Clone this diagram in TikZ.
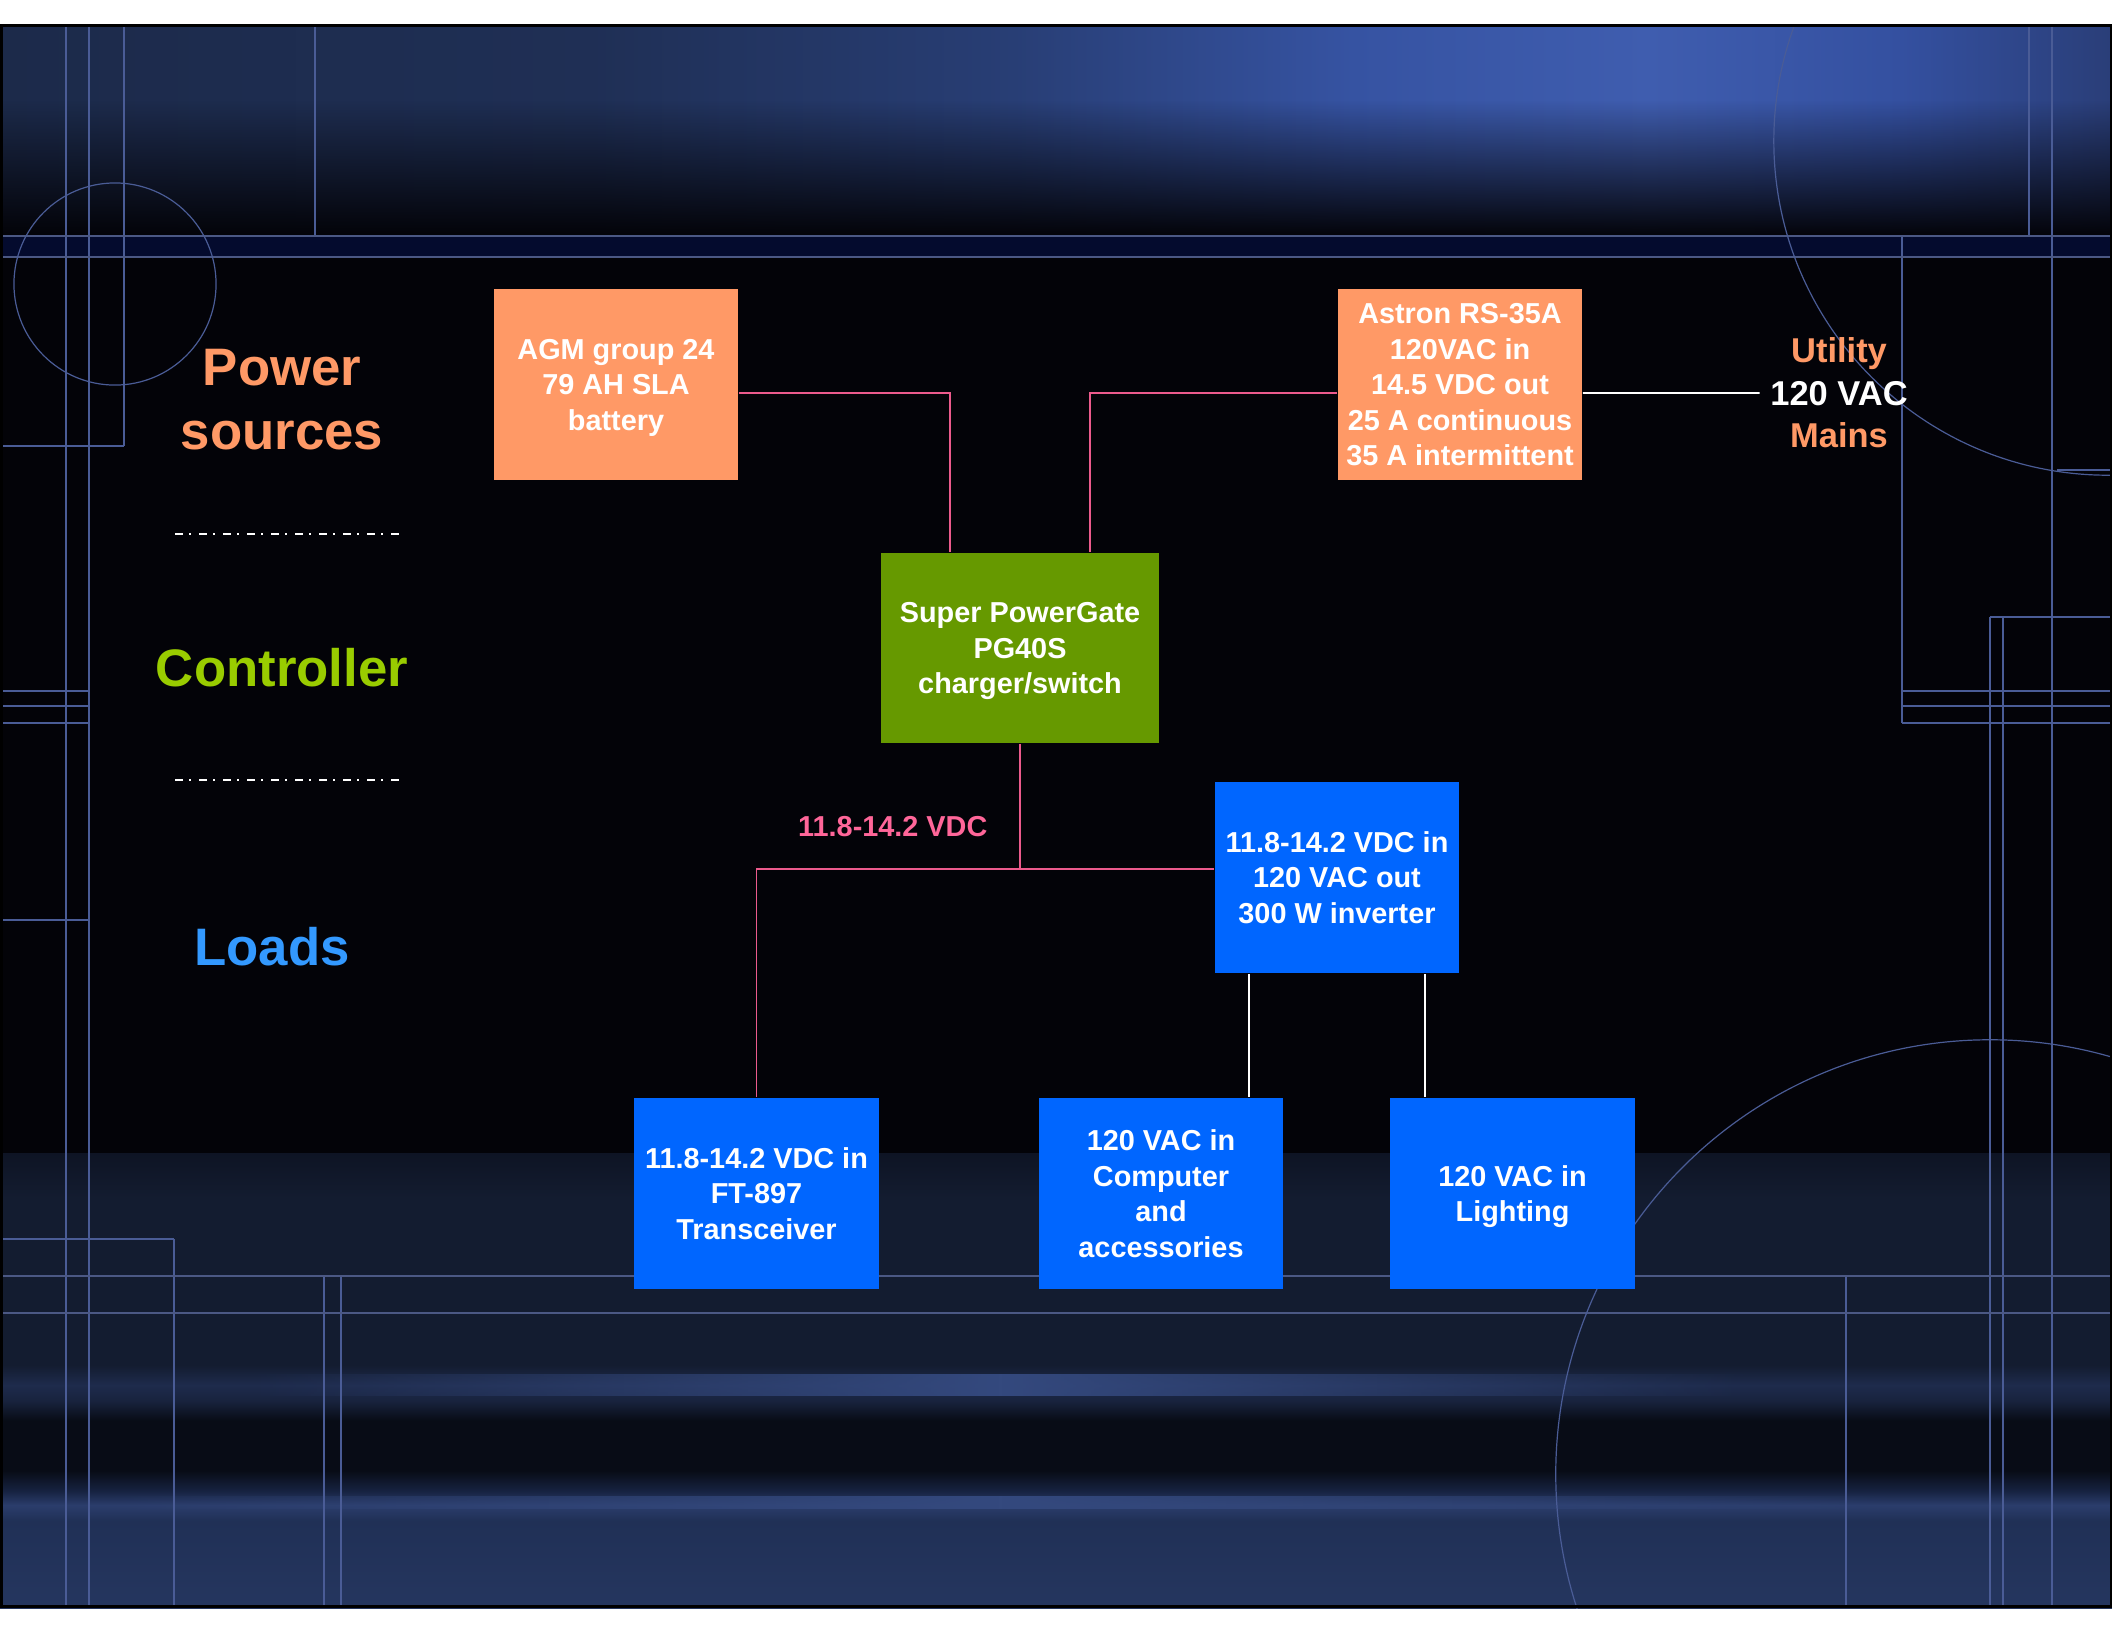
\documentclass[tikz,border=0pt]{standalone}
\usepackage{fontspec}
\setmainfont{Liberation Sans}
\usetikzlibrary{positioning,fadings}

\definecolor{srcorange}{HTML}{FF9966}
\definecolor{ctrlgreen}{HTML}{669900}
\definecolor{ctrltext}{HTML}{99CC00}
\definecolor{loadblue}{HTML}{0066FF}
\definecolor{loadtext}{HTML}{3399FF}
\definecolor{dcpink}{HTML}{FF6699}
\definecolor{wirepink}{HTML}{EC5A8C}
\definecolor{gridblue}{HTML}{4A5C96}
\definecolor{gridgrey}{HTML}{4B5884}
\definecolor{slideblack}{HTML}{030308}
\definecolor{bandnavy}{HTML}{040B2E}
\definecolor{streakblue}{HTML}{34497E}

\definecolor{topA}{HTML}{1C2A4A}
\definecolor{topB}{HTML}{1F2F55}
\definecolor{topC}{HTML}{283E75}
\definecolor{topD}{HTML}{3653A2}
\definecolor{topE}{HTML}{3F5DAF}
\definecolor{topF}{HTML}{3450A0}
\definecolor{topG}{HTML}{2A3E78}
\pgfdeclarehorizontalshading{topband}{100bp}{color(0bp)=(topA); color(25bp)=(topA);
  color(39bp)=(topB); color(49bp)=(topC); color(57bp)=(topD); color(64bp)=(topE);
  color(70bp)=(topF); color(75bp)=(topG); color(100bp)=(topG)}

\definecolor{botA}{HTML}{25365F}
\definecolor{botB}{HTML}{203056}
\definecolor{botC}{HTML}{2B3D6C}
\definecolor{botD}{HTML}{162240}
\definecolor{botE}{HTML}{080C16}
\definecolor{botF}{HTML}{18233E}
\definecolor{botG}{HTML}{1E2B4C}
\definecolor{botH}{HTML}{131C30}
\definecolor{botI}{HTML}{0E1424}
\pgfdeclareverticalshading{botband}{100bp}{color(0bp)=(botA); color(25bp)=(botA);
  color(34.6bp)=(botB); color(36.3bp)=(botC); color(37.9bp)=(botD); color(40.1bp)=(botE);
  color(45.6bp)=(botE); color(47.8bp)=(botF); color(49.5bp)=(botG); color(51.7bp)=(botH);
  color(70bp)=(botH); color(75bp)=(botI); color(100bp)=(botI)}

\tikzfading[name=fadedown, top color=transparent!100, bottom color=transparent!0]
\tikzfading[name=fadesides, left color=transparent!100, right color=transparent!100,
  middle color=transparent!0]

\begin{document}
\begin{tikzpicture}[x=0.01cm, y=-0.01cm,
	box/.style={minimum width=2.44cm, minimum height=1.91cm, inner sep=0pt, align=center,
		text depth=0pt, text=white, font=\fontsize{8.2}{10.1}\selectfont\bfseries},
	srcbox/.style={box, fill=srcorange},
	ctrlbox/.style={box, fill=ctrlgreen, minimum width=2.78cm, minimum height=1.90cm},
	loadbox/.style={box, fill=loadblue},
	dcwire/.style={draw=wirepink, line width=0.018cm},
	acwire/.style={draw=white, line width=0.018cm},
	layer/.style={align=center, font=\fontsize{15}{18.2}\selectfont\bfseries},
	layerline/.style={draw=white, line width=0.015cm,
		dash pattern=on 0.08cm off 0.06cm on 0.02cm off 0.08cm},
	deco/.style={draw=gridblue, line width=0.012cm},
	decothick/.style={draw=gridgrey, line width=0.028cm}
]
	\useasboundingbox (0,0) rectangle (2112,1632);
	\fill[white] (0,0) rectangle (2112,1632);
	\fill[slideblack] (0,24) rectangle (2112,1608);

	\begin{scope}
		\clip (0,24) rectangle (2112,1608);
		\shade[shading=topband] (0,24) rectangle (2112,237);
		\fill[slideblack, path fading=fadedown] (0,100) rectangle (2112,237);
		\fill[bandnavy] (0,236) rectangle (2112,257);
		\shade[shading=botband] (0,1153) rectangle (2112,1608);
		\fill[streakblue, path fading=fadesides] (250,1374) rectangle (1750,1396);
		\fill[streakblue, path fading=fadesides] (100,1496) rectangle (1900,1509);

		\draw[deco] (66,24) -- (66,1608) (89,24) -- (89,1608) (124,24) -- (124,446)
			(315,24) -- (315,236) (2029,24) -- (2029,236) (2052,24) -- (2052,1608)
			(1902,236) -- (1902,723) (1990,617) -- (1990,1608) (2003,617) -- (2003,1608)
			(174,1239) -- (174,1608) (324,1276) -- (324,1608) (341,1276) -- (341,1608)
			(1846,1276) -- (1846,1608);
		\draw[deco] (0,446) -- (124,446) (0,691) -- (89,691) (0,706) -- (89,706)
			(0,723) -- (89,723) (0,920) -- (89,920) (0,1239) -- (174,1239)
			(1902,691) -- (2112,691) (1902,706) -- (2112,706) (1902,723) -- (2112,723)
			(1990,617) -- (2112,617) (2057,470) -- (2112,470);
		\draw[decothick] (0,236) -- (2112,236) (0,257) -- (2112,257)
			(0,1276) -- (2112,1276) (0,1313) -- (2112,1313);
		\draw[deco] (115,284) circle[radius=1.01cm];
		\draw[deco] (2108,141) circle[radius=3.34cm];
		\draw[deco] (1990,1474) circle[radius=4.34cm];
	\end{scope}
	\draw[black, line width=0.03cm] (1,25.5) rectangle (2111,1606.5);

	\node[layer, text=srcorange] (powerlbl) at (282,400) {Power\\sources};
	\node[layer, text=ctrltext] (ctrllbl) at (282,668) {Controller};
	\node[layer, text=loadtext] (loadlbl) at (272,947) {Loads};
	\draw[layerline] (175,534) -- (402,534);
	\draw[layerline] (175,780) -- (402,780);

	\node[srcbox] (battery) at (616,384.5) {AGM group 24\\79 AH SLA\\battery};
	\node[srcbox] (astron) at (1460,384.5)
		{Astron RS-35A\\120VAC in\\14.5 VDC out\\25 A continuous\\35 A intermittent};
	\node[align=center, text=white, inner sep=0.1cm,
		font=\fontsize{9.8}{12.1}\selectfont\bfseries] (mains) at (1839,393)
		{{\color{srcorange}Utility}\\120 VAC\\{\color{srcorange}Mains}};
	\node[ctrlbox] (gate) at (1020,648) {Super PowerGate\\PG40S\\charger/switch};
	\node[loadbox] (inverter) at (1337,877.5)
		{11.8-14.2 VDC in\\120 VAC out\\300 W inverter};
	\node[loadbox, minimum width=2.45cm] (radio) at (756.5,1193.5)
		{11.8-14.2 VDC in\\FT-897\\Transceiver};
	\node[loadbox] (computer) at (1161,1193.5) {120 VAC in\\Computer\\and\\accessories};
	\node[loadbox, minimum width=2.45cm] (lighting) at (1512.5,1193.5) {120 VAC in\\Lighting};

	\draw[dcwire] ([yshift=-0.085cm]battery.east) -| ([xshift=-0.7cm]gate.north);
	\draw[dcwire] ([yshift=-0.085cm]astron.west) -| ([xshift=0.7cm]gate.north);
	\draw[acwire] ([yshift=-0.085cm]astron.east) -- (mains.west);
	\coordinate (bus) at (1020,869);
	\draw[dcwire] (gate.south) -- (bus)
		node[pos=0.66, left=0.2cm, text=dcpink, font=\fontsize{8.2}{10.1}\selectfont\bfseries]
		(dclabel) {11.8-14.2 VDC};
	\draw[dcwire] (bus -| inverter.west) -| (radio.north);
	\draw[acwire] ([xshift=-0.88cm]inverter.south) -- ([xshift=-0.88cm]inverter.south |- computer.north);
	\draw[acwire] ([xshift=0.88cm]inverter.south) -- ([xshift=0.88cm]inverter.south |- lighting.north);
\end{tikzpicture}
\end{document}
